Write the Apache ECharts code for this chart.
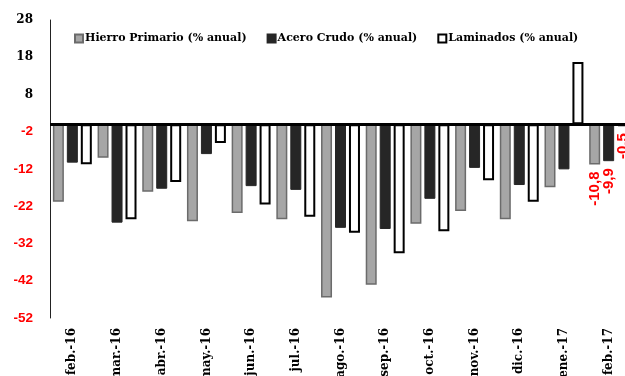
<!DOCTYPE html>
<html>
<head>
<meta charset="utf-8">
<script src="https://cdn.jsdelivr.net/npm/echarts@6/dist/echarts.min.js"></script>
<style>
  html, body { margin: 0; padding: 0; background: #fff; }
  #chart { width: 625px; height: 376px; }
</style>
</head>
<body>
<div id="chart"></div>
<script>
// Monthly year-over-year change of steel production (% anual)
const months = ['feb.-16', 'mar.-16', 'abr.-16', 'may.-16', 'jun.-16', 'jul.-16',
                'ago.-16', 'sep.-16', 'oct.-16', 'nov.-16', 'dic.-16', 'ene.-17', 'feb.-17'];

const hierroPrimario = [-20.8, -9.0, -18.1, -26.0, -23.8, -25.5, -46.5, -43.1, -26.7, -23.3, -25.5, -16.9, -10.8];
const aceroCrudo     = [-10.3, -26.4, -17.3, -8.0, -16.6, -17.6, -27.8, -28.1, -20.0, -11.7, -16.3, -12.1, -9.9];
const laminados      = [-10.7, -25.5, -15.5, -5.0, -21.5, -24.8, -29.1, -34.6, -28.7, -15.0, -20.8, 16.7, -0.5];

const seriesNames = ['Hierro Primario (% anual)', 'Acero Crudo (% anual)', 'Laminados (% anual)'];

const serifBold = { fontFamily: 'DejaVu Serif', fontWeight: 'bold' };

// Only the most recent month carries a value label
function lastLabel(values) {
  const last = values.length - 1;
  return values.map((v, i) => i === last ? {
    value: v,
    label: {
      show: true,
      position: 'bottom',
      distance: 7,
      rotate: 90,
      align: 'right',
      verticalAlign: 'middle',
      color: '#ff0000',
      fontFamily: 'Liberation Sans',
      fontWeight: 'bold',
      fontSize: 15,
      formatter: p => String(p.value).replace('.', ',')
    }
  } : v);
}

const chart = echarts.init(document.getElementById('chart'), null, { renderer: 'canvas' });

chart.setOption({
  animation: false,
  backgroundColor: '#ffffff',
  legend: {
    left: 69,
    top: 28,
    icon: 'rect',
    itemWidth: 8,
    itemHeight: 8,
    itemGap: 20,
    textStyle: Object.assign({ fontSize: 11, color: '#000', padding: [0, 0, 0, -3] }, serifBold),
    data: seriesNames
  },
  grid: { left: 50, right: -6, top: 20, bottom: 58, containLabel: false, outerBoundsMode: 'none' },
  xAxis: {
    type: 'category',
    data: months,
    position: 'bottom',
    axisLine: { show: false, onZero: false },
    axisTick: { show: false },
    axisLabel: Object.assign({
      rotate: 90,
      margin: 10,
      fontSize: 12,
      color: '#000',
      interval: 0
    }, serifBold)
  },
  yAxis: {
    type: 'value',
    min: -52,
    max: 28,
    interval: 10,
    splitLine: { show: false },
    axisTick: { show: false },
    axisLine: { show: true, lineStyle: { color: '#222', width: 1 } },
    axisLabel: {
      margin: 17,
      formatter: v => (v < 0 ? '{neg|' + v + '}' : '{pos|' + v + '}'),
      rich: {
        pos: Object.assign({ fontSize: 12, color: '#000' }, serifBold),
        neg: { fontSize: 13.5, color: '#ff0000', fontFamily: 'Liberation Sans', fontWeight: 'bold' }
      }
    }
  },
  series: [
    {
      name: seriesNames[0],
      type: 'bar',
      barWidth: 11,
      barGap: '27%',
      itemStyle: { color: '#a6a6a6', borderColor: '#6b6b6b', borderWidth: 1.5 },
      data: lastLabel(hierroPrimario),
      markLine: {
        silent: true,
        symbol: 'none',
        label: { show: false },
        lineStyle: { color: '#000', width: 3, type: 'solid' },
        data: [{ yAxis: 0 }],
        z: 5
      }
    },
    {
      name: seriesNames[1],
      type: 'bar',
      barWidth: 11,
      barGap: '27%',
      itemStyle: { color: '#262626', borderColor: '#262626', borderWidth: 1 },
      data: lastLabel(aceroCrudo)
    },
    {
      name: seriesNames[2],
      type: 'bar',
      barWidth: 11,
      barGap: '27%',
      itemStyle: { color: '#ffffff', borderColor: '#000000', borderWidth: 2 },
      data: lastLabel(laminados)
    }
  ]
});
</script>
</body>
</html>
